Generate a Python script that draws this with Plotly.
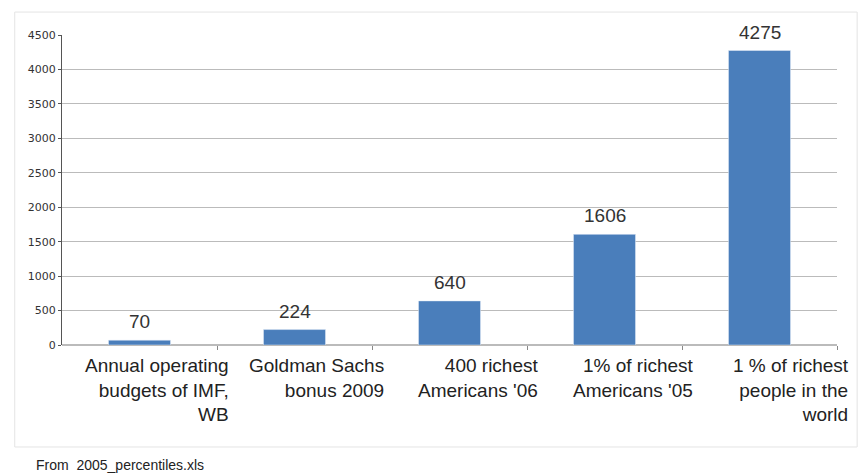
import plotly.graph_objects as go

categories = ["Annual operating<br>budgets of IMF,<br>WB",
              "Goldman Sachs<br>bonus 2009",
              "400 richest<br>Americans '06",
              "1% of richest<br>Americans '05",
              "1 % of richest<br>people in the<br>world"]
values = [70, 224, 640, 1606, 4275]
y_ticks = [0, 500, 1000, 1500, 2000, 2500, 3000, 3500, 4000, 4500]

xs = list(range(len(values)))
fig = go.Figure()
fig.add_trace(go.Bar(
    x=xs, y=values, width=0.4, marker_color="#4a7ebb",
))

for i, v in enumerate(values):
    fig.add_annotation(x=i, y=v, xref="x", yref="y", text=str(v),
                       xanchor="center", yanchor="bottom", yshift=6,
                       showarrow=False,
                       font=dict(size=19, color="#333333", family="Liberation Sans"))

for i, c in enumerate(categories):
    fig.add_annotation(x=i + 0.5, y=0, xref="x", yref="y", text=c,
                       xanchor="right", yanchor="top", align="right",
                       yshift=-8, xshift=14, showarrow=False,
                       font=dict(size=19, color="#222222", family="Liberation Sans"))

fig.add_annotation(x=-0.036, y=-0.387, xref="paper", yref="paper",
                   text="From  2005_percentiles.xls", showarrow=False,
                   xanchor="left", yanchor="middle",
                   font=dict(size=14, color="#222222", family="Liberation Sans"))

fig.add_shape(type="rect", xref="paper", yref="paper",
              x0=-0.061, x1=1.026, y0=-0.329, y1=1.074,
              line=dict(color="#e4e4e4", width=1), layer="below")

fig.update_layout(
    width=859, height=475,
    margin=dict(l=62, r=22, t=35, b=130),
    paper_bgcolor="white", plot_bgcolor="white",
    showlegend=False,
    xaxis=dict(range=[-0.5, 4.5], tickmode="array",
               tickvals=[0.5, 1.5, 2.5, 3.5, 4.5], ticktext=[""] * 5,
               ticks="outside", ticklen=4, tickcolor="#888888",
               showgrid=False, zeroline=False, showline=False),
    yaxis=dict(range=[0, 4500], tickmode="array", tickvals=y_ticks,
               ticktext=[str(t) for t in y_ticks],
               showgrid=True, gridcolor="#bbbbbb", gridwidth=1,
               zeroline=True, zerolinecolor="#bbbbbb",
               showline=True, linecolor="#555555", linewidth=1,
               ticks="outside", ticklen=3, tickcolor="#555555",
               ticklabelstandoff=0,
               tickfont=dict(size=11, color="#333333", family="DejaVu Sans")),
)

fig.write_html("out.html")
